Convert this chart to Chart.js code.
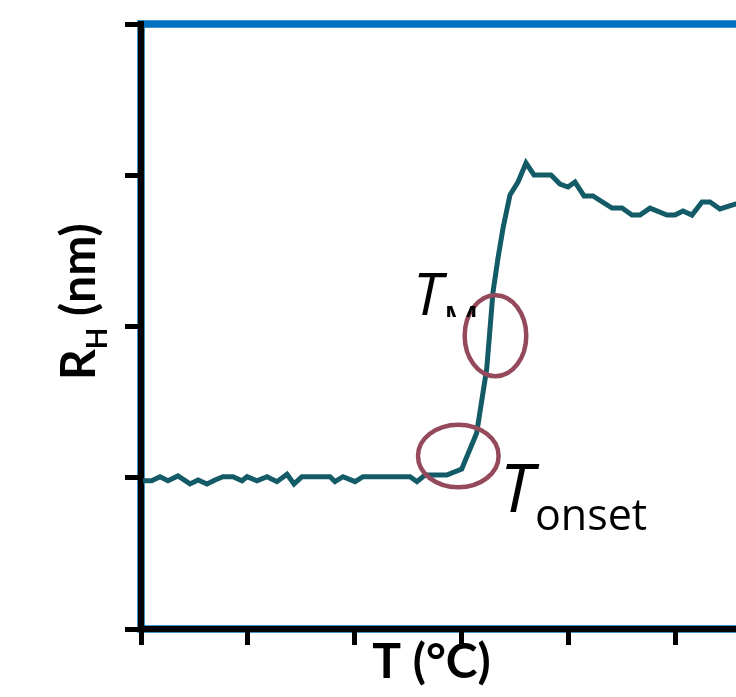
<!DOCTYPE html>
<html><head><meta charset="utf-8">
<script src="https://cdn.jsdelivr.net/npm/chart.js@4/dist/chart.umd.min.js"></script>
<style>
html,body{margin:0;padding:0;background:#fff;overflow:hidden;width:736px;height:697px}
#wrap{width:736px;height:697px;overflow:hidden;position:relative}
canvas{display:block}
</style></head>
<body><div id="wrap"><canvas id="c" width="800" height="697" style="width:800px;height:697px"></canvas></div>
<script>
// Temperature (°C) and hydrodynamic radius values
const temperatures = [20.19,21.00,21.78,22.53,23.46,24.59,25.34,26.18,26.93,27.68,28.61,29.46,29.93,30.86,31.80,32.73,33.67,34.33,35.07,37.70,38.16,38.91,40.04,40.79,45.19,45.84,46.59,48.62,50.03,51.43,52.37,52.96,53.43,53.90,54.55,55.30,56.05,56.80,58.39,59.23,59.98,60.64,61.48,62.32,64.10,65.04,65.97,66.72,67.66,69.25,70.00,70.75,71.59,72.53,73.28,74.21,75.71,76.84];
const radiusNm = [0.98,0.98,1.007,0.98,1.012,0.959,0.985,0.959,0.985,1.007,1.007,0.98,1.007,0.98,1.007,0.974,1.023,0.959,1.007,1.007,0.974,1.007,0.974,1.007,1.007,0.974,1.018,1.018,1.058,1.296,1.719,2.228,2.453,2.651,2.870,2.955,3.081,3.002,3.002,2.942,2.922,2.955,2.863,2.863,2.783,2.783,2.737,2.737,2.783,2.737,2.737,2.764,2.737,2.823,2.823,2.777,2.810,2.823];
const xTicks = [20,30,40,50,60,70,80];
const yTicks = [0,1,2,3,4];
const xTitle = 'T (°C)';
const yTitleMain = 'R', yTitleSub = 'H', yTitleRest = ' (nm)';
// annotation markers (data coordinates)
const circleCenters = [{x:53.19, y:1.939}, {x:49.71, y:1.144}];
const labelAnchors = [{main:'T', sub:'M', x:45.5, y:2.076}, {main:'T', sub:'onset', x:53.61, y:0.774}];

const points = temperatures.map((t,i)=>({x:t, y:radiusNm[i]}));

const decor = {
  id:'decor',
  beforeDraw(chart){
    const {ctx, chartArea:a} = chart;
    ctx.save();
    ctx.strokeStyle = '#0070C0';
    ctx.lineWidth = 7.5;
    ctx.strokeRect(a.left, a.top, a.right-a.left, a.bottom-a.top);
    ctx.restore();
  },
  afterDraw(chart){
    const {ctx} = chart;
    const xs = chart.scales.x, ys = chart.scales.y;
    ctx.save();
    // ellipses
    ctx.strokeStyle = '#954A5B';
    ctx.lineWidth = 4.5;
    const radii = [[30.8,40.5],[40.3,31.3]];
    circleCenters.forEach((c,i)=>{
      ctx.beginPath();
      ctx.ellipse(xs.getPixelForValue(c.x), ys.getPixelForValue(c.y), radii[i][0], radii[i][1], 0, 0, Math.PI*2);
      ctx.stroke();
    });
    ctx.fillStyle = '#000';
    ctx.textBaseline = 'alphabetic';
    ctx.textAlign = 'left';
    // T_M
    let p = labelAnchors[0];
    let px = xs.getPixelForValue(p.x), py = ys.getPixelForValue(p.y);
    ctx.font = 'italic 58px "Open Sans"';
    ctx.fillText(p.main, px, py);
    ctx.save();
    ctx.beginPath();
    ctx.rect(px, py-60, 120, 62);
    ctx.clip();
    ctx.font = '40px "Open Sans"';
    ctx.fillText(p.sub, px+30, py+20);
    ctx.restore();
    // T_onset
    p = labelAnchors[1];
    px = xs.getPixelForValue(p.x); py = ys.getPixelForValue(p.y);
    ctx.font = 'italic 67px "Open Sans"';
    ctx.fillText(p.main, px, py);
    ctx.font = '43px "Open Sans"';
    ctx.fillText(p.sub, px+35, py+18);
    // x title
    ctx.font = 'bold 48px Lato';
    ctx.textAlign = 'center';
    ctx.fillText(xTitle, 431.5, 678);
    // y title
    ctx.translate(95, 380);
    ctx.rotate(-Math.PI/2);
    ctx.textAlign = 'left';
    ctx.font = 'bold 48px Lato';
    ctx.fillText(yTitleMain, 0, 0);
    let w = ctx.measureText(yTitleMain).width;
    ctx.font = 'bold 28px Lato';
    ctx.fillText(yTitleSub, w, 11.7);
    w += ctx.measureText(yTitleSub).width;
    ctx.font = 'bold 48px Lato';
    ctx.fillText(yTitleRest, w, 0);
    ctx.restore();
  }
};

new Chart(document.getElementById('c'), {
  type:'line',
  data:{datasets:[{data:points, borderColor:'#135B66', borderWidth:5, pointRadius:0, tension:0, fill:false}]},
  options:{
    responsive:false, animation:false, devicePixelRatio:1,
    layout:{padding:{top:24, right:18.2, left:0, bottom:0}},
    plugins:{legend:{display:false}, tooltip:{enabled:false}},
    scales:{
      x:{type:'linear', min:xTicks[0], max:xTicks[xTicks.length-1],
        afterBuildTicks(s){ s.ticks = xTicks.map(v=>({value:v})); },
        ticks:{display:false},
        grid:{drawOnChartArea:false, drawTicks:true, tickLength:16, tickWidth:5, tickColor:'#000'},
        border:{display:true, color:'#000', width:6},
        afterFit(s){ s.height = 68; }
      },
      y:{type:'linear', min:yTicks[0], max:yTicks[yTicks.length-1],
        afterBuildTicks(s){ s.ticks = yTicks.map(v=>({value:v})); },
        ticks:{display:false},
        grid:{drawOnChartArea:false, drawTicks:true, tickLength:16, tickWidth:5, tickColor:'#000'},
        border:{display:true, color:'#000', width:6},
        afterFit(s){ s.width = 141; }
      }
    }
  },
  plugins:[decor]
});
</script></body></html>
